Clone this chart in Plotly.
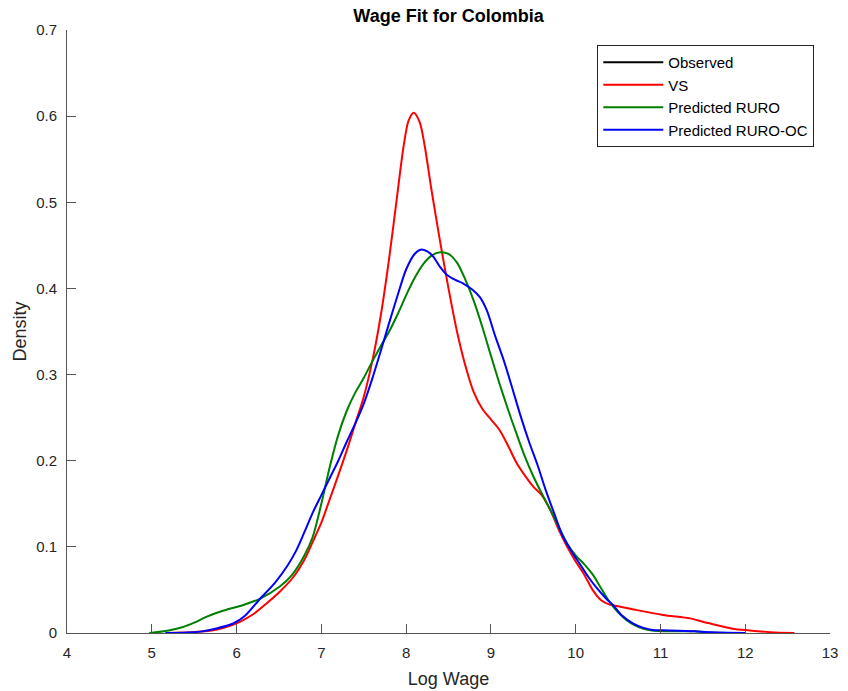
import plotly.graph_objects as go

# Kernel density estimates of log wages, Colombia
vs_x = [5.18, 5.45, 5.69, 5.85, 6.04, 6.2, 6.35, 6.5, 6.67, 6.8, 6.9, 7.0, 7.08, 7.16,
        7.3, 7.4, 7.5, 7.6, 7.7, 7.8, 7.9, 7.97, 8.03, 8.09, 8.16, 8.22, 8.3, 8.4, 8.5,
        8.6, 8.7, 8.8, 8.9, 9.0, 9.1, 9.2, 9.3, 9.4, 9.5, 9.6, 9.7, 9.8, 9.9, 10.0, 10.1,
        10.2, 10.3, 10.4, 10.5, 10.7, 11.03, 11.35, 11.5, 11.66, 11.85, 12.05, 12.3, 12.58]
vs_y = [0.0, 0.0008, 0.0025, 0.006, 0.013, 0.022, 0.034, 0.047, 0.065, 0.085, 0.106, 0.128,
        0.15, 0.172, 0.212, 0.243, 0.274, 0.315, 0.368, 0.435, 0.512, 0.565, 0.595, 0.604,
        0.593, 0.565, 0.514, 0.455, 0.4, 0.35, 0.31, 0.279, 0.26, 0.248, 0.236, 0.218,
        0.198, 0.183, 0.17, 0.16, 0.143, 0.12, 0.1, 0.083, 0.068, 0.05, 0.038, 0.033,
        0.031, 0.027, 0.021, 0.017, 0.013, 0.0093, 0.005, 0.003, 0.001, 0.0]

ruro_x = [4.97, 5.2, 5.37, 5.5, 5.65, 5.88, 6.08, 6.28, 6.51, 6.65, 6.8, 6.9, 7.0, 7.1,
          7.2, 7.3, 7.4, 7.5, 7.6, 7.7, 7.8, 7.9, 8.0, 8.1, 8.2, 8.3, 8.4, 8.5, 8.6, 8.7,
          8.8, 8.9, 9.0, 9.1, 9.2, 9.3, 9.4, 9.5, 9.6, 9.7, 9.8, 9.9, 10.0, 10.1, 10.2,
          10.3, 10.4, 10.5, 10.6, 10.7, 10.8, 10.9, 11.1, 11.4, 11.6, 11.8]
ruro_y = [0.0, 0.003, 0.007, 0.012, 0.019, 0.027, 0.0325, 0.04, 0.054, 0.067, 0.09, 0.112,
          0.15, 0.193, 0.23, 0.258, 0.279, 0.296, 0.315, 0.333, 0.35, 0.37, 0.392, 0.412,
          0.428, 0.438, 0.442, 0.44, 0.43, 0.41, 0.385, 0.355, 0.322, 0.29, 0.26, 0.232,
          0.205, 0.182, 0.162, 0.143, 0.123, 0.104, 0.09, 0.08, 0.068, 0.052, 0.036, 0.024,
          0.015, 0.009, 0.005, 0.003, 0.002, 0.002, 0.0005, 0.0]

rurooc_x = [5.16, 5.57, 5.75, 5.96, 6.1, 6.28, 6.45, 6.6, 6.7, 6.8, 6.9, 7.0, 7.1, 7.2,
            7.3, 7.4, 7.5, 7.6, 7.7, 7.8, 7.9, 8.0, 8.1, 8.17, 8.25, 8.32, 8.4, 8.48, 8.58,
            8.67, 8.79, 8.87, 8.95, 9.05, 9.15, 9.25, 9.35, 9.45, 9.55, 9.65, 9.75, 9.85,
            9.95, 10.05, 10.15, 10.25, 10.35, 10.44, 10.55, 10.68, 10.8, 10.91, 11.1, 11.4,
            11.6, 12.0]
rurooc_y = [0.0, 0.0016, 0.005, 0.011, 0.02, 0.04, 0.058, 0.078, 0.095, 0.117, 0.14, 0.16,
            0.18, 0.2, 0.222, 0.243, 0.266, 0.295, 0.327, 0.36, 0.392, 0.422, 0.44, 0.445,
            0.443, 0.437, 0.425, 0.416, 0.41, 0.406, 0.398, 0.39, 0.375, 0.345, 0.317, 0.285,
            0.252, 0.222, 0.195, 0.165, 0.138, 0.112, 0.095, 0.08, 0.065, 0.052, 0.041,
            0.0325, 0.02, 0.011, 0.006, 0.0035, 0.003, 0.002, 0.0008, 0.0]

FONT = "Liberation Sans, Arial, sans-serif"
AX = "#262626"

fig = go.Figure()
fig.add_trace(go.Scatter(x=[None], y=[None], mode="lines", name="Observed",
                         line=dict(color="black", width=2)))
fig.add_trace(go.Scatter(x=vs_x, y=vs_y, mode="lines", name="VS",
                         line=dict(color="#ff0000", width=2, shape="spline", smoothing=0.8)))
fig.add_trace(go.Scatter(x=ruro_x, y=ruro_y, mode="lines", name="Predicted RURO",
                         line=dict(color="#008000", width=2, shape="spline", smoothing=0.8)))
fig.add_trace(go.Scatter(x=rurooc_x, y=rurooc_y, mode="lines", name="Predicted RURO-OC",
                         line=dict(color="#0000ff", width=2, shape="spline", smoothing=0.8)))

axis_common = dict(showline=True, linecolor="#555555", linewidth=1, ticks="inside",
                   ticklen=9, tickcolor="#555555", tickwidth=1, showgrid=False,
                   zeroline=False, mirror=False, ticklabelstandoff=6, automargin=False,
                   tickfont=dict(family=FONT, size=15, color=AX))

fig.update_layout(
    width=848, height=691,
    margin=dict(l=67, r=18, t=30, b=58),
    plot_bgcolor="white", paper_bgcolor="white",
    font=dict(family=FONT, color=AX),
    title=dict(text="<b>Wage Fit for Colombia</b>", x=448.5 / 848, xanchor="center",
               y=1 - 16 / 691, yanchor="middle", yref="container",
               font=dict(family=FONT, size=18, color="black")),
    xaxis=dict(range=[4, 13], dtick=1, tick0=4,
               title=dict(text="Log Wage", font=dict(family=FONT, size=18, color=AX),
                          standoff=12),
               **axis_common),
    yaxis=dict(range=[0, 0.7], dtick=0.1, tick0=0,
               title=dict(text="Density", font=dict(family=FONT, size=18, color=AX),
                          standoff=4),
               **axis_common),
    legend=dict(x=0.695, y=0.975, xanchor="left", yanchor="top",
                bgcolor="white", bordercolor="#262626", borderwidth=1,
                font=dict(family=FONT, size=15, color="black"),
                tracegroupgap=0, itemwidth=60),
    showlegend=True,
)

fig.write_html("out.html")
